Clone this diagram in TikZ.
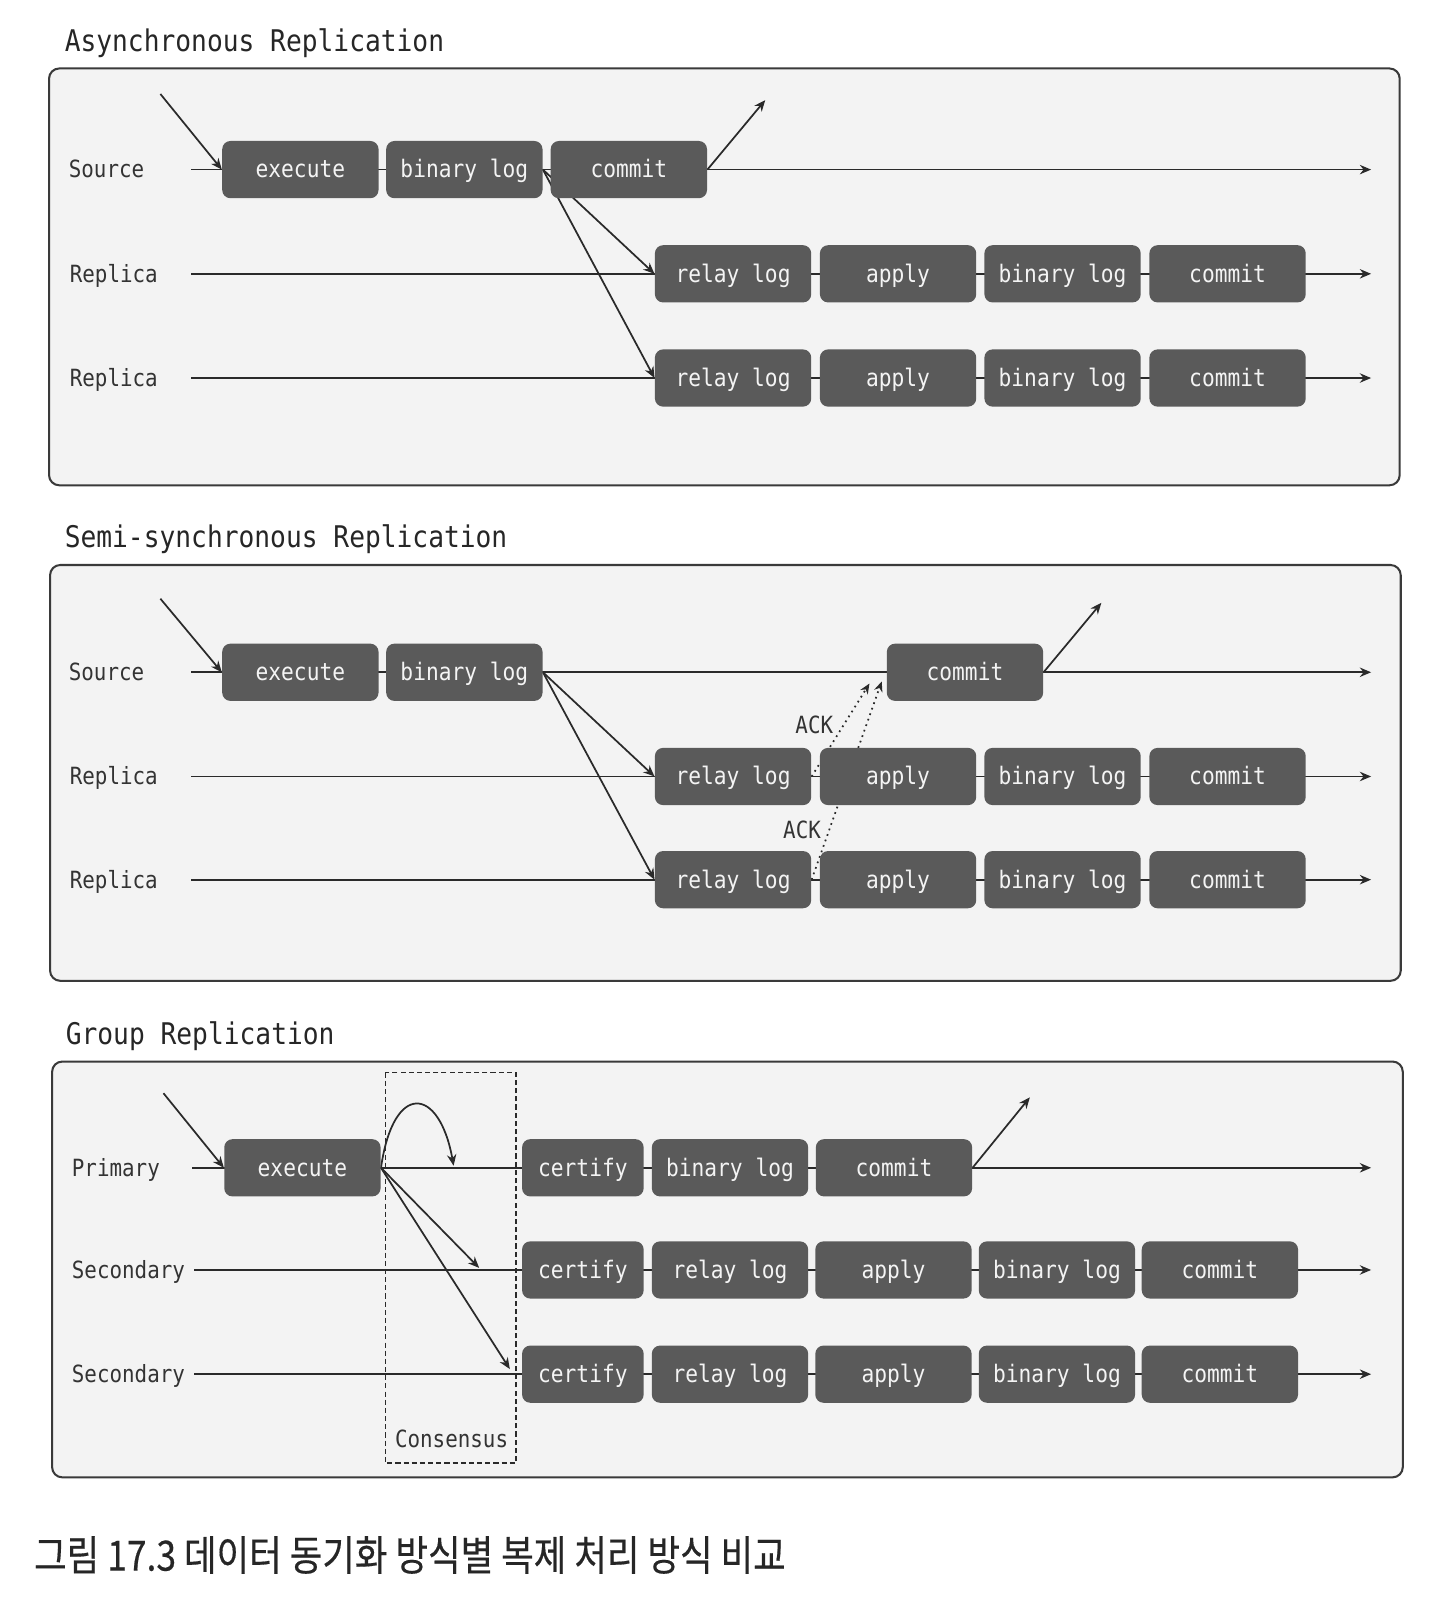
\documentclass[tikz,border=0pt]{standalone}
\usepackage{fontspec}
\usetikzlibrary{arrows.meta,calc}
\newfontfamily\codefont[FakeStretch=0.88]{DejaVu Sans Mono}
\newfontfamily\cjkfont[FakeStretch=0.85,FakeBold=0.4]{Noto Sans CJK KR}
\definecolor{panelfill}{HTML}{F3F3F3}
\definecolor{panelline}{HTML}{3A3A3A}
\definecolor{boxfill}{HTML}{5A5A5A}
\definecolor{boxtext}{HTML}{F4F4F4}
\definecolor{linecol}{HTML}{2A2A2A}
\definecolor{labeltext}{HTML}{333333}
\pgfdeclarelayer{back}
\pgfdeclarelayer{mid}
\pgfsetlayers{back,mid,main}
\begin{document}
\begin{tikzpicture}[x=0.5pt,y=-0.5pt,
  stage/.style={fill=boxfill, rounded corners=4pt, minimum height=28pt,
    inner sep=0pt, text height=10pt, text depth=1.8pt, text=boxtext,
    font=\codefont\fontsize{11.8}{13}\selectfont},
  wide/.style={minimum width=76.5pt},
  narrow/.style={minimum width=59.5pt},
  rowlabel/.style={anchor=west, inner sep=0pt, text=labeltext,
    text height=10pt, text depth=1.8pt,
    font=\codefont\fontsize{11.6}{13}\selectfont},
  paneltitle/.style={anchor=base west, inner sep=0pt, text=black!85,
    font=\codefont\fontsize{14.6}{16}\selectfont},
  panel/.style={draw=panelline, fill=panelfill, line width=1pt, rounded corners=5pt},
  flow/.style={draw=linecol, line width=0.85pt, -{Stealth[length=5.5pt,width=4.6pt]}},
  ack/.style={draw=linecol, line width=0.85pt, dotted, -{Stealth[length=5pt,width=4.2pt]}},
  consensus/.style={draw=linecol, line width=0.6pt, dash pattern=on 2.5pt off 1.5pt},
  acklabel/.style={inner sep=0pt, text=labeltext, font=\codefont\fontsize{11.6}{13}\selectfont}
]
\path[use as bounding box] (0,0) rectangle (1407,1568);

% ---------------- panel frames ----------------
\begin{pgfonlayer}{back}
  \draw[panel] (48,67) rectangle (1370,475);
  \draw[panel] (49,553) rectangle (1371,960);
  \draw[panel] (51,1039) rectangle (1373,1446);
  \draw[consensus] (377,1050) rectangle (505,1432);
\end{pgfonlayer}

% ---------------- titles and caption ----------------
\node[paneltitle] (t-async) at (63,50) {Asynchronous Replication};
\node[paneltitle] (t-semi) at (63,536) {Semi-synchronous Replication};
\node[paneltitle] (t-group) at (64,1022) {Group Replication};
\node[anchor=west, inner sep=0pt, text=black!85,
  font=\cjkfont\fontsize{20.4}{24}\selectfont] (caption) at (33,1522)
  {그림 17.3 데이터 동기화 방식별 복제 처리 방식 비교};

% ================= Asynchronous =================
\node[rowlabel] (a-lsrc) at (67,166) {Source};
\node[rowlabel] (a-lr1) at (68,268) {Replica};
\node[rowlabel] (a-lr2) at (68,370) {Replica};
\node[stage,wide] (a-ex) at (294,166) {execute};
\node[stage,wide] (a-bl) at (454.5,166) {binary log};
\node[stage,wide] (a-cm) at (615.5,166) {commit};
\foreach \r/\y in {1/268,2/370}{
  \node[stage,wide] (a-r\r-rl) at (717.5,\y) {relay log};
  \node[stage,wide] (a-r\r-ap) at (879,\y) {apply};
  \node[stage,wide] (a-r\r-bl) at (1040,\y) {binary log};
  \node[stage,wide] (a-r\r-cm) at (1201.5,\y) {commit};
  \coordinate (a-r\r-s) at (187,\y);
  \coordinate (a-r\r-e) at (1342,\y);
}
\coordinate (a-s) at (187,166);
\coordinate (a-e) at (1342,166);
\coordinate (a-in) at (157,92);
\coordinate (a-out) at (749,98);

\begin{pgfonlayer}{mid}
  \draw[flow] (a-s) -- (a-e);
  \draw[flow] (a-r1-s) -- (a-r1-e);
  \draw[flow] (a-r2-s) -- (a-r2-e);
  \draw[flow] (a-in) -- (a-ex.west);
  \draw[flow] (a-cm.east) -- (a-out);
  \draw[flow] (a-bl.east) -- (a-r1-rl.west);
  \draw[flow] (a-bl.east) -- (a-r2-rl.west);
\end{pgfonlayer}

% ================= Semi-synchronous =================
\node[rowlabel] (b-lsrc) at (67,658) {Source};
\node[rowlabel] (b-lr1) at (68,760) {Replica};
\node[rowlabel] (b-lr2) at (68,861) {Replica};
\node[stage,wide] (b-ex) at (294,658) {execute};
\node[stage,wide] (b-bl) at (454.5,658) {binary log};
\node[stage,wide] (b-cm) at (944.5,658) {commit};
\foreach \r/\y in {1/760,2/861}{
  \node[stage,wide] (b-r\r-rl) at (717.5,\y) {relay log};
  \node[stage,wide] (b-r\r-ap) at (879,\y) {apply};
  \node[stage,wide] (b-r\r-bl) at (1040,\y) {binary log};
  \node[stage,wide] (b-r\r-cm) at (1201.5,\y) {commit};
  \coordinate (b-r\r-s) at (187,\y);
  \coordinate (b-r\r-e) at (1342,\y);
}
\coordinate (b-s) at (187,658);
\coordinate (b-e) at (1342,658);
\coordinate (b-in) at (157,586);
\coordinate (b-out) at (1078,590);
\coordinate (b-ack1) at (851,669);
\coordinate (b-ack2) at (863,667);
\node[acklabel] (b-ackl1) at (797,709) {ACK};
\node[acklabel] (b-ackl2) at (785,812) {ACK};

\begin{pgfonlayer}{mid}
  \draw[flow] (b-s) -- (b-e);
  \draw[flow] (b-r1-s) -- (b-r1-e);
  \draw[flow] (b-r2-s) -- (b-r2-e);
  \draw[flow] (b-in) -- (b-ex.west);
  \draw[flow] (b-cm.east) -- (b-out);
  \draw[flow] (b-bl.east) -- (b-r1-rl.west);
  \draw[flow] (b-bl.east) -- (b-r2-rl.west);
  \draw[ack] (b-r1-rl.east) -- (b-ack1);
  \draw[ack] (b-r2-rl.east) -- (b-ack2);
\end{pgfonlayer}

% ================= Group =================
\node[rowlabel] (c-lp) at (70,1143) {Primary};
\node[rowlabel] (c-ls1) at (70,1243) {Secondary};
\node[rowlabel] (c-ls2) at (70,1345) {Secondary};
\node[stage,wide] (c-ex) at (296,1143) {execute};
\node[stage,narrow] (c-ce) at (570.5,1143) {certify};
\node[stage,wide] (c-bl) at (714.5,1143) {binary log};
\node[stage,wide] (c-cm) at (875,1143) {commit};
\foreach \r/\y in {1/1243,2/1345}{
  \node[stage,narrow] (c-s\r-ce) at (570.5,\y) {certify};
  \node[stage,wide] (c-s\r-rl) at (714.5,\y) {relay log};
  \node[stage,wide] (c-s\r-ap) at (874.5,\y) {apply};
  \node[stage,wide] (c-s\r-bl) at (1034.5,\y) {binary log};
  \node[stage,wide] (c-s\r-cm) at (1194,\y) {commit};
  \coordinate (c-s\r-s) at (190,\y);
  \coordinate (c-s\r-e) at (1342,\y);
}
\coordinate (c-s) at (188,1143);
\coordinate (c-e) at (1342,1143);
\coordinate (c-in) at (160,1070);
\coordinate (c-out) at (1008,1074);
\coordinate (c-loop) at (444,1141);
\coordinate (c-t1) at (469,1241);
\coordinate (c-t2) at (499,1340);
\node[acklabel] (c-cons) at (442,1408) {Consensus};

\begin{pgfonlayer}{mid}
  \draw[flow] (c-s) -- (c-e);
  \draw[flow] (c-s1-s) -- (c-s1-e);
  \draw[flow] (c-s2-s) -- (c-s2-e);
  \draw[flow] (c-in) -- (c-ex.west);
  \draw[flow] (c-cm.east) -- (c-out);
  \draw[flow] (c-ex.east) .. controls (385,1058) and (430,1063) .. (c-loop);
  \draw[flow] (c-ex.east) -- (c-t1);
  \draw[flow] (c-ex.east) -- (c-t2);
\end{pgfonlayer}
\end{tikzpicture}
\end{document}
